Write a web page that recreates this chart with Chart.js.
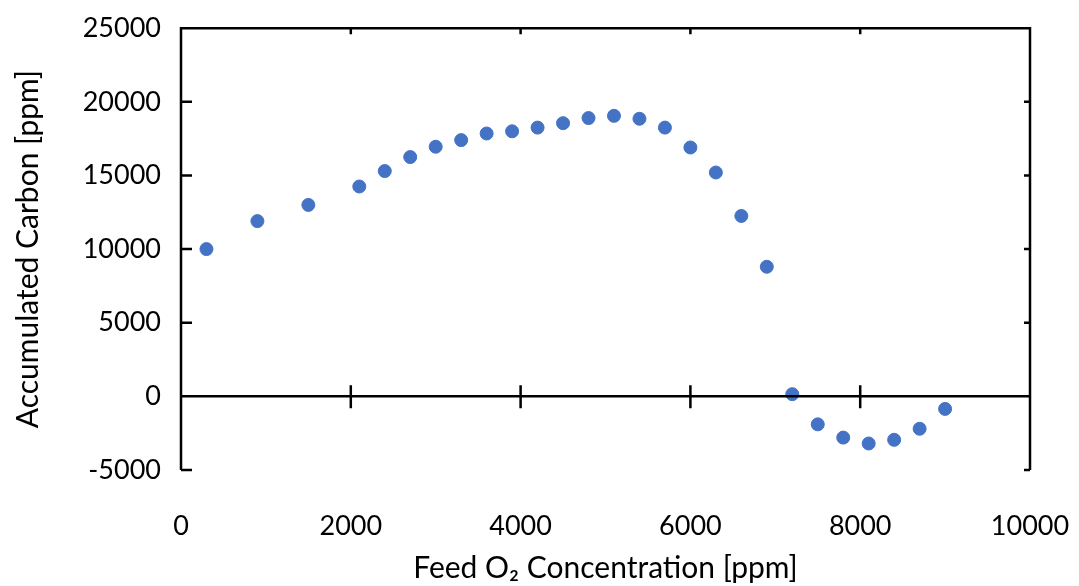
<!DOCTYPE html>
<html>
<head>
<meta charset="utf-8">
<script src="https://cdn.jsdelivr.net/npm/chart.js@4"></script>
<style>
  html, body { margin: 0; padding: 0; background: #fff; }
  #wrap { width: 1079px; height: 586px; }
</style>
</head>
<body>
<div id="wrap"><canvas id="chart"></canvas></div>
<script>
const feedO2 = [300, 900, 1500, 2100, 2400, 2700, 3000, 3300, 3600, 3900, 4200, 4500, 4800, 5100,
  5400, 5700, 6000, 6300, 6600, 6900, 7200, 7500, 7800, 8100, 8400, 8700, 9000];
const accumulatedCarbon = [10000, 11900, 13000, 14250, 15300, 16250, 16950, 17400, 17850, 18000,
  18250, 18550, 18900, 19050, 18850, 18250, 16900, 15200, 12250, 8800, 150, -1900, -2800, -3200,
  -2950, -2200, -850];
const xTicks = [0, 2000, 4000, 6000, 8000, 10000];
const yTicks = [-5000, 0, 5000, 10000, 15000, 20000, 25000];

const points = feedO2.map((x, i) => ({ x: x, y: accumulatedCarbon[i] }));

// frame, zero line and inward ticks, placed with the chart's own scales
const framePlugin = {
  id: "frame",
  afterDraw(chart) {
    const { ctx, chartArea: a, scales } = chart;
    const zero = scales.y.getPixelForValue(0);
    ctx.save();
    ctx.strokeStyle = "#000";
    ctx.lineWidth = 2.5;
    ctx.beginPath();
    ctx.moveTo(a.left, a.bottom);
    ctx.lineTo(a.left, a.top);
    ctx.lineTo(a.right, a.top);
    ctx.lineTo(a.right, a.bottom);
    ctx.moveTo(a.left, zero);
    ctx.lineTo(a.right, zero);
    yTicks.forEach((v) => {
      const py = scales.y.getPixelForValue(v);
      ctx.moveTo(a.left, py);
      ctx.lineTo(a.left + 11, py);
      ctx.moveTo(a.right, py);
      ctx.lineTo(a.right - 6, py);
    });
    xTicks.forEach((v) => {
      const px = scales.x.getPixelForValue(v);
      ctx.moveTo(px, zero - 11);
      ctx.lineTo(px, zero + 12);
      ctx.moveTo(px, a.top);
      ctx.lineTo(px, a.top + 6);
    });
    ctx.stroke();
    ctx.restore();
  },
};

const tickFont = { family: "Lato, 'Open Sans', sans-serif", size: 27 };
const titleFont = { family: "Lato, 'Open Sans', sans-serif", size: 30 };

new Chart(document.querySelector("#chart"), {
  type: "scatter",
  data: {
    datasets: [
      {
        label: "Accumulated Carbon",
        data: points,
        backgroundColor: "#4472C4",
        borderColor: "#4472C4",
        pointRadius: 6.5,
        pointHoverRadius: 6.5,
      },
    ],
  },
  options: {
    responsive: true,
    maintainAspectRatio: false,
    animation: false,
    layout: { padding: { top: 19, right: 49, left: 10, bottom: 0 } },
    plugins: { legend: { display: false }, tooltip: { enabled: false } },
    scales: {
      x: {
        min: 0,
        max: 10000,
        grid: { display: false },
        border: { display: false },
        afterBuildTicks: (s) => { s.ticks = xTicks.map((v) => ({ value: v })); },
        afterFit: (s) => { s.height = 116; s.paddingLeft = 0; s.paddingRight = 0; },
        ticks: { font: tickFont, color: "#000", padding: 32, maxRotation: 0, callback: (v) => String(v) },
        title: { display: true, text: "Feed O₂ Concentration [ppm]", font: titleFont, color: "#000", padding: { top: 0, bottom: 0 } },
      },
      y: {
        min: -5000,
        max: 25000,
        grid: { display: false },
        border: { display: false },
        afterBuildTicks: (s) => { s.ticks = yTicks.map((v) => ({ value: v })); },
        afterFit: (s) => { s.width = 171; },
        ticks: { font: tickFont, color: "#000", padding: 12, callback: (v) => String(v) },
        title: { display: true, text: "Accumulated Carbon [ppm]", font: titleFont, color: "#000", padding: { top: 0, bottom: 0 } },
      },
    },
  },
  plugins: [framePlugin],
});
</script>
</body>
</html>
